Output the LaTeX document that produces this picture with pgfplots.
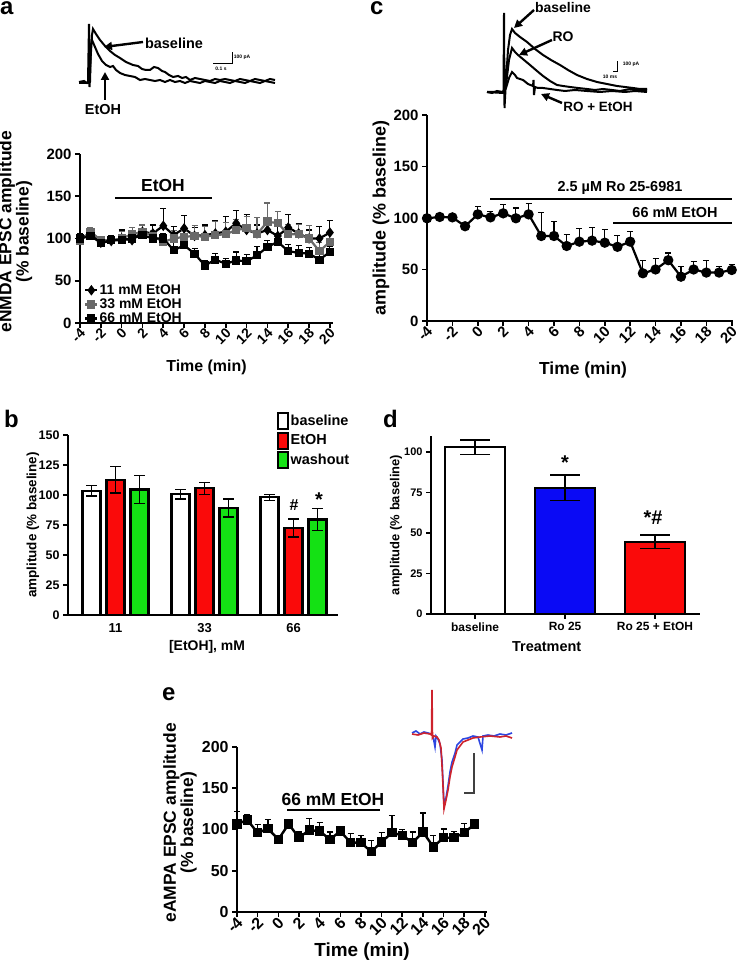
\documentclass[border=0pt]{standalone}
\usepackage{fontspec}
\setmainfont{Liberation Sans}
\usepackage{pgfplots}
\pgfplotsset{compat=1.18}
\usepackage{pgfplotstable}
\usetikzlibrary{arrows.meta}
\newcommand{\fs}[1]{\fontsize{#1}{#1}\selectfont}
\definecolor{bred}{RGB}{250,10,10}
\definecolor{bgreen}{RGB}{20,225,20}
\definecolor{bblue}{RGB}{10,10,245}
\definecolor{sgray}{RGB}{105,105,105}
\definecolor{tblue}{RGB}{45,70,225}
\definecolor{tred}{RGB}{205,35,45}

\tikzset{arr/.style={line width=2.4bp, -{Triangle[length=8bp,width=8bp]}}}
\pgfplotsset{
  prism/.style={
    scale only axis, axis lines=left,
    axis line style={line width=2.2bp,-},
    tick align=outside, major tick length=5bp,
    tick style={line width=1.6bp, black},
    /pgf/number format/assume math mode=true,
    clip=false, anchor=south west,
  },
  tsfmt/.style={xtick={-4,-2,...,20},
    xticklabels={-4,-2,0,2,4,6,8,10,12,14,16,18,20},
    xticklabel style={rotate=45, anchor=east, inner sep=1bp, yshift=-4bp, xshift=1bp}},
  ebplus/.style={error bars/y dir=plus, error bars/y explicit,
    error bars/error bar style={line width=1.1bp, #1},
    error bars/error mark options={rotate=90, line width=1.1bp, mark size=3bp, #1}},
  ebboth/.style={error bars/y dir=both, error bars/y explicit,
    error bars/error bar style={line width=1.4bp, black},
    error bars/error mark options={rotate=90, line width=1.4bp, mark size=#1, black}},
}

\pgfplotstableread{
t m11 e11 m33 e33 m66 e66
-4 101 5 97 8 100 4
-3 105 6 108 5 103 5
-2 95 5 98 4 95 4
-1 97 6 98 6 98 5
0 100 10 100 8 98 6
1 98 8 105 8 100 8
2 108 8 108 8 104 6
3 106 10 103 6 100 8
4 115 20 96 8 100 6
5 104 10 100 9 86 10
6 112 15 102 8 92 8
7 103 10 103 12 82 6
8 104 12 102 12 68 6
9 106 15 104 16 75 7
10 108 18 105 14 70 6
11 118 15 110 12 74 10
12 110 18 112 14 73 8
13 106 10 105 20 80 10
14 110 15 120 22 90 8
15 103 12 118 14 96 10
16 113 15 105 12 85 8
17 106 12 105 12 83 9
18 100 10 100 15 82 7
19 100 14 85 10 75 6
20 107 14 96 12 84 6
}\dataA

\pgfplotstableread{
t m e
-4 99.7 2
-3 101 3
-2 100.6 3
-1 92 2
0 103.5 7.5
1 100.6 6
2 104.5 8.5
3 99.7 10
4 103.5 10.5
5 82.5 23
6 82.5 14
7 72.8 11
8 77 13
9 78 12.6
10 76 13
11 72 11
12 77 10
13 46.3 12
14 50 11
15 59 7
16 43 10
17 50 7.6
18 47 12
19 47 6
20 49.5 5.5
}\dataC

\pgfplotstableread{
t m e
-4 106.6 15
-3 111.5 6.5
-2 96 10.6
-1 101 11
0 88 4
1 106.6 2
2 90 7
3 99.4 14
4 98 10.6
5 88 9
6 98 2
7 84 11
8 84 9
9 73 14
10 85 11.5
11 96 20.7
12 93 7
13 84 13
14 97 23
15 79 13.5
16 90 10.6
17 90 8
18 96 11
19 106.6 1
}\dataE

\begin{document}
\bfseries
\begin{tikzpicture}[x=1bp,y=1bp]
\path[use as bounding box] (0,0) rectangle (739,967);

% ---------- overlay: traces and annotations in pixel units ----------
\begin{axis}[at={(0bp,0bp)}, anchor=south west, width=739bp, height=967bp,
  scale only axis, hide axis, xmin=0, xmax=739, ymin=0, ymax=967,
  y dir=reverse, clip=false]
% trace a
\addplot[black, line width=2bp, no marks] coordinates {
(79,82) (84,81) (87,83) (88,82) (89,24) (89.5,87) (90.5,60) (92,35) (93,29) (96,34)
(100,40) (105,46) (110,51) (115,55) (120,58) (126,62) (133,65) (138,66) (142,69)
(146,70) (150,70) (154,67) (158,68) (162,71) (165,72) (169,75) (173,77) (178,76)
(182,78) (186,77) (190,80) (195,78) (200,79) (205,80) (210,81) (215,79) (220,80)
(225,79) (230,80) (235,81) (240,79) (245,80) (250,81) (255,79) (260,80) (265,81)
(270,79) (275,80)};
\addplot[black, line width=2bp, no marks] coordinates {
(79,83) (85,83) (88,83) (90,82) (91,45) (92,40) (95,47) (98,54) (102,61) (106,65)
(110,67) (113,66) (116,70) (120,73) (125,75) (130,76) (135,77) (140,80) (145,79)
(150,80) (155,81) (160,80) (165,82) (170,80) (175,82) (180,81) (185,83) (190,81)
(195,82) (200,83) (205,81) (210,82) (215,83) (220,81) (225,82) (230,83) (235,81)
(240,82) (245,83) (250,81) (255,82) (260,83) (265,81) (270,82) (275,83)};
\draw[line width=1bp] (213,64) -- (232,64) -- (232,52);
\node[font=\fs{5}] at (242,57) {100 pA};
\node[font=\fs{5}] at (221,69) {0.1 s};
\draw[arr] (143,42) -- (104,47);
\node[font=\fs{14.5}] at (174,43) {baseline};
\draw[arr] (105,100) -- (105,72);
\node[font=\fs{14.5}] at (103,110) {EtOH};
% trace c
\addplot[black, line width=2bp, no marks] coordinates {
(487,92) (492,93) (497,91) (502,92) (503.5,92) (504,13) (504.5,108) (506,80) (508,50)
(510,35) (512,29) (515,33) (520,37) (527,42) (535,49) (543,55) (551,60) (560,65)
(568,70) (577,75) (587,79) (597,82) (607,84) (617,86) (625,87) (633,88) (640,89) (647,89)};
\addplot[black, line width=2bp, no marks] coordinates {
(487,92) (503,92) (506,85) (509,60) (512,48) (515,52) (518,55) (524,60) (530,65)
(537,71) (543,76) (550,81) (557,85) (563,86) (570,87) (578,88) (587,89) (595,90)
(603,89) (612,90) (620,91) (630,89) (640,90) (647,90)};
\addplot[black, line width=2bp, no marks] coordinates {
(487,92) (503,93) (506,88) (509,78) (512,72) (515,75) (517,78) (520,79) (523,80)
(528,84) (533,86) (533.5,80) (534,95) (535,87) (538,88) (543,88) (550,89) (557,90)
(565,91) (575,90) (587,91) (600,92) (612,91) (625,92) (635,91) (647,92)};
\draw[line width=1bp] (613,72) -- (617,72) -- (617,61);
\node[font=\fs{5}] at (631,64) {100 pA};
\node[font=\fs{5}] at (610,77) {10 ms};
\draw[arr] (534,10) -- (514,28);
\node[font=\fs{14}] at (563,8) {baseline};
\draw[arr] (552,40) -- (519,55);
\node[font=\fs{14}] at (563,37) {RO};
\draw[arr] (562,103) -- (541,94);
\node[font=\fs{13.5}] at (598,107) {RO + EtOH};
% trace e
\addplot[tblue, line width=1.6bp, no marks] coordinates {
(412,733) (416,731) (420,734) (424,732) (428,733) (431,734) (433,736) (435,747)
(436,736) (438,739) (440,744) (442,760) (444,805) (446,798) (448,786) (450,772)
(452,762) (455,753) (457,745) (460,742) (463,739) (468,738) (473,736) (478,737)
(482,750) (483,736) (488,735) (494,736) (500,734) (506,735) (512,733)};
\addplot[tred, line width=1.6bp, no marks] coordinates {
(412,734) (418,735) (424,733) (430,734) (431.5,735) (432,690) (432.5,738) (434,736)
(437,737) (439,740) (441,748) (442.5,775) (444,809) (446,800) (448,790) (450,777)
(452,767) (455,757) (457,750) (460,746) (463,742) (468,740) (473,738) (480,737)
(490,736) (500,737) (506,736) (512,738)};
\draw[line width=1.6bp, black!75] (464,793) -- (474,793) -- (474,753);
% treatment bars
\draw[line width=2.6bp] (115,198) -- (212,198);
\node[font=\fs{17.5}] at (163,186) {EtOH};
\draw[line width=2.6bp] (490,199) -- (732,199);
\node[font=\fs{14.5}] at (620,188) {2.5 µM Ro 25-6981};
\draw[line width=2.6bp] (613,223) -- (732,223);
\node[font=\fs{14.5}] at (675,213) {66 mM EtOH};
\draw[line width=2.6bp] (287,810) -- (380,810);
\node[font=\fs{17.5}] at (333,799) {66 mM EtOH};
% significance marks
\node[font=\fs{16}] at (294,505) {\#};
\node[font=\fs{20}] at (319,500) {*};
\node[font=\fs{20}] at (565,463) {*};
\node[font=\fs{20}] at (653,518) {*\#};
% panel letters
\node[anchor=base west, font=\fs{24}, inner sep=0] at (0,15) {a};
\node[anchor=base west, font=\fs{24}, inner sep=0] at (370,15) {c};
\node[anchor=base west, font=\fs{24}, inner sep=0] at (4,428) {b};
\node[anchor=base west, font=\fs{24}, inner sep=0] at (383,428) {d};
\node[anchor=base west, font=\fs{24}, inner sep=0] at (162,700) {e};
\end{axis}

% ---------- panel a ----------
\begin{axis}[prism, tsfmt, at={(80bp,644bp)}, width=253bp, height=169bp,
  xmin=-4, xmax=20.3, ymin=0, ymax=200, ytick={0,50,100,150,200},
  xticklabel style={font=\fs{14}}, yticklabel style={font=\fs{15}},
  xlabel={Time (min)}, xlabel style={font=\fs{16}, at={(axis description cs:0.5,-0.26)}, anchor=center},
  ylabel={eNMDA EPSC amplitude\\(\% baseline)},
  ylabel style={font=\fs{17.5}, align=center, at={(axis description cs:-0.255,0.54)}, anchor=center},
  legend style={at={(0.016,0.235)}, anchor=north west, draw=none, fill=none,
    font=\fs{14}, row sep=0.5bp, inner sep=0pt, nodes={inner sep=1.2bp}},
  legend cell align=left,
  legend image code/.code={\draw[#1, mark repeat=2, mark phase=2] plot coordinates {(0bp,0bp) (6bp,0bp) (12bp,0bp)};},
]
\addplot[black, line width=2.2bp, mark=diamond*, mark size=3.5bp, ebplus=black]
  table[x=t, y=m11, y error=e11] {\dataA};
\addlegendentry{11 mM EtOH}
\addplot[sgray, line width=2.2bp, mark=square*, mark size=3bp, ebplus=sgray]
  table[x=t, y=m33, y error=e33] {\dataA};
\addlegendentry{33 mM EtOH}
\addplot[black, line width=2.2bp, mark=square*, mark size=3bp, ebplus=black]
  table[x=t, y=m66, y error=e66] {\dataA};
\addlegendentry{66 mM EtOH}
\end{axis}

% ---------- panel c ----------
\begin{axis}[prism, tsfmt, at={(427bp,646bp)}, width=306bp, height=206bp,
  xmin=-4, xmax=20.1, ymin=0, ymax=200, ytick={0,50,100,150,200},
  xticklabel style={font=\fs{15}}, yticklabel style={font=\fs{15}},
  xlabel={Time (min)}, xlabel style={font=\fs{17.5}, at={(axis description cs:0.51,-0.24)}, anchor=center},
  ylabel={amplitude (\% baseline)},
  ylabel style={font=\fs{18}, at={(axis description cs:-0.15,0.5)}, anchor=center},
]
\addplot[black, line width=2.2bp, mark=*, mark size=4bp, ebplus=black]
  table[x=t, y=m, y error=e] {\dataC};
\end{axis}

% ---------- panel b ----------
\begin{axis}[prism, at={(68bp,352bp)}, width=270bp, height=180bp,
  xmin=-0.534, xmax=2.5, ymin=0, ymax=150, ytick={0,25,50,75,100,125,150},
  xtick={0,1,2}, xticklabels={11,33,66}, major x tick style={draw=none},
  ybar=6bp, bar width=18bp,
  xticklabel style={font=\fs{13}}, yticklabel style={font=\fs{12.5}},
  xlabel={[EtOH], mM}, xlabel style={font=\fs{14}, at={(axis description cs:0.515,-0.18)}, anchor=center},
  ylabel={amplitude (\% baseline)},
  ylabel style={font=\fs{13.5}, at={(axis description cs:-0.13,0.5)}, anchor=center},
  legend style={at={(0.774,1.128)}, anchor=north west, draw=none, fill=none,
    font=\fs{14.5}, row sep=1.5bp, inner sep=0pt, nodes={inner sep=1.5bp}},
  legend cell align=left,
  legend image code/.code={\draw[#1, line width=2bp] (0bp,-8bp) rectangle (10bp,8bp);},
]
\addplot[fill=white, draw=black, line width=2.2bp, ebboth=5.5bp]
  coordinates {(0,103.5) +- (0,4.5) (1,100.5) +- (0,4) (2,98) +- (0,2.5)};
\addlegendentry{baseline}
\addplot[fill=bred, draw=black, line width=2.2bp, ebboth=5.5bp]
  coordinates {(0,112.5) +- (0,11) (1,105.5) +- (0,5) (2,72.5) +- (0,7.5)};
\addlegendentry{EtOH}
\addplot[fill=bgreen, draw=black, line width=2.2bp, ebboth=5.5bp]
  coordinates {(0,104.5) +- (0,11.5) (1,89) +- (0,7.5) (2,79.5) +- (0,9)};
\addlegendentry{washout}
\end{axis}

% ---------- panel d ----------
\begin{axis}[prism, at={(431bp,353bp)}, width=269bp, height=178bp,
  xmin=-0.49, xmax=2.5, ymin=0, ymax=110, ytick={0,25,50,75,100},
  xtick={0,1,2}, xticklabels={baseline,Ro 25,Ro 25 + EtOH},
  ybar, bar width=60bp,
  xticklabel style={font=\fs{12}}, yticklabel style={font=\fs{11}},
  xlabel={Treatment}, xlabel style={font=\fs{14.5}, at={(axis description cs:0.43,-0.185)}, anchor=center},
  ylabel={amplitude (\% baseline)},
  ylabel style={font=\fs{13}, at={(axis description cs:-0.13,0.5)}, anchor=center},
]
\addplot[fill=white, draw=black, line width=2.2bp, bar shift=0bp, ebboth=15bp]
  coordinates {(0,103) +- (0,4.5)};
\addplot[fill=bblue, draw=black, line width=2.2bp, bar shift=0bp, ebboth=15bp]
  coordinates {(1,78) +- (0,8)};
\addplot[fill=bred, draw=black, line width=2.2bp, bar shift=0bp, ebboth=15bp]
  coordinates {(2,44.6) +- (0,4.2)};
\end{axis}

% ---------- panel e ----------
\begin{axis}[prism, tsfmt, at={(237bp,55bp)}, width=250bp, height=165bp,
  xmin=-4, xmax=20.2, ymin=0, ymax=200, ytick={0,50,100,150,200},
  xticklabel style={font=\fs{16}}, yticklabel style={font=\fs{16}},
  xlabel={Time (min)}, xlabel style={font=\fs{19}, at={(axis description cs:0.5,-0.24)}, anchor=center},
  ylabel={eAMPA EPSC amplitude\\(\% baseline)},
  ylabel style={font=\fs{17.5}, align=center, at={(axis description cs:-0.228,0.54)}, anchor=center},
]
\addplot[black, line width=2.4bp, mark=square*, mark size=3.5bp, ebplus=black]
  table[x=t, y=m, y error=e] {\dataE};
\end{axis}
\end{tikzpicture}
\end{document}
